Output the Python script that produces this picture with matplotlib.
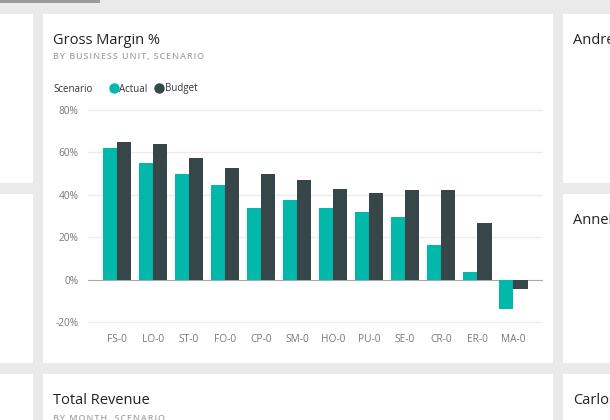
import matplotlib
matplotlib.use("Agg")
import matplotlib.pyplot as plt
from matplotlib.patches import Rectangle
from matplotlib.lines import Line2D
import numpy as np

plt.rcParams['font.family'] = ['Open Sans', 'DejaVu Sans']

# data
units = ['FS-0', 'LO-0', 'ST-0', 'FO-0', 'CP-0', 'SM-0', 'HO-0', 'PU-0', 'SE-0', 'CR-0', 'ER-0', 'MA-0']
actual = [62.0, 54.8, 49.9, 44.5, 33.7, 37.5, 33.7, 31.8, 29.3, 16.1, 3.8, -13.9]
budget = [65.0, 64.0, 57.2, 52.6, 49.6, 46.8, 42.7, 40.9, 42.2, 42.5, 26.7, -4.3]
yticks = [-20, 0, 20, 40, 60, 80]

W, H = 610, 420
c_actual = '#01B8AA'
c_budget = '#374649'
bg = '#eaeaea'

fig = plt.figure(figsize=(W / 100, H / 100), dpi=100)
fig.patch.set_facecolor(bg)


def box(x0, y0, x1, y1, color='white'):
    # pixel box (top-left origin) -> figure fraction
    fig.add_artist(Rectangle((x0 / W, 1 - y1 / H), (x1 - x0) / W, (y1 - y0) / H,
                             transform=fig.transFigure, facecolor=color, edgecolor='none', zorder=0))


def txt(x, y, s, **kw):
    fig.text(x / W, 1 - y / H, s, **kw)


def spaced(s):
    # small letter spacing like the power bi subtitle
    return '\u200a'.join(s)


# dashboard tiles
box(0, 0, 100, 3, '#9a9a9a')
for (ya, yb) in [(14, 183), (194, 363), (374, 420)]:
    box(0, ya, 33, yb)
    box(563, ya, 610, yb)
box(43, 14, 553, 363)
box(43, 374, 553, 420)

txt(573, 40, 'Andre', fontsize=10.5, color='#222222', va='center')
txt(573, 220, 'Annel', fontsize=10.5, color='#222222', va='center')
txt(573, 400, 'Carlos', fontsize=10.5, color='#222222', va='center')
txt(53, 400, 'Total Revenue', fontsize=10.5, color='#222222', va='center')
txt(53, 418, spaced('BY MONTH, SCENARIO'), fontsize=6.5, color='#a6a6a6', va='center', weight='semibold')

# main tile
txt(53, 40, 'Gross Margin %', fontsize=10.5, color='#222222', va='center')
txt(53, 57, spaced('BY BUSINESS UNIT, SCENARIO'), fontsize=6.5, color='#a6a6a6', va='center', weight='semibold')
txt(53, 89, 'Scenario', fontsize=7, color='#333333', va='center')

ax_l, ax_r, ax_t, ax_b = 88, 543, 106, 326
ax = fig.add_axes([ax_l / W, 1 - ax_b / H, (ax_r - ax_l) / W, (ax_b - ax_t) / H])
ax.set_facecolor('white')

x = np.arange(len(units))
w = 0.4
ax.bar(x - w / 2, actual, width=w, color=c_actual, zorder=3)
ax.bar(x + w / 2, budget, width=w, color=c_budget, zorder=3)

ax.set_xlim(-0.806, 11.83)
ax.set_ylim(-21.9, 81.9)
ax.set_yticks(yticks)
ax.set_yticklabels([f'{v}%' for v in yticks])
ax.set_xticks(x)
ax.set_xticklabels(units)
for v in yticks:
    if v == 0:
        ax.axhline(v, color='#a8a8a8', lw=0.8, zorder=2)
    else:
        ax.axhline(v, color='#ececec', lw=1.0, zorder=1)
for s in ax.spines.values():
    s.set_visible(False)
ax.tick_params(length=0, labelsize=7.3, labelcolor='#777777')
ax.tick_params(axis='y', pad=7)
ax.tick_params(axis='x', pad=6)

handles = [Line2D([], [], marker='o', ls='none', color=c_actual, markersize=6.5),
           Line2D([], [], marker='o', ls='none', color=c_budget, markersize=6.5)]
fig.legend(handles, ['Actual', 'Budget'], loc='center left',
           bbox_to_anchor=(111 / W, 1 - 89 / H), ncol=2, frameon=False,
           fontsize=7, labelcolor='#333333', handlelength=0.6, handletextpad=0.25,
           columnspacing=0.9, borderpad=0, borderaxespad=0)

fig.savefig('out.png', dpi=100, facecolor=fig.get_facecolor())
